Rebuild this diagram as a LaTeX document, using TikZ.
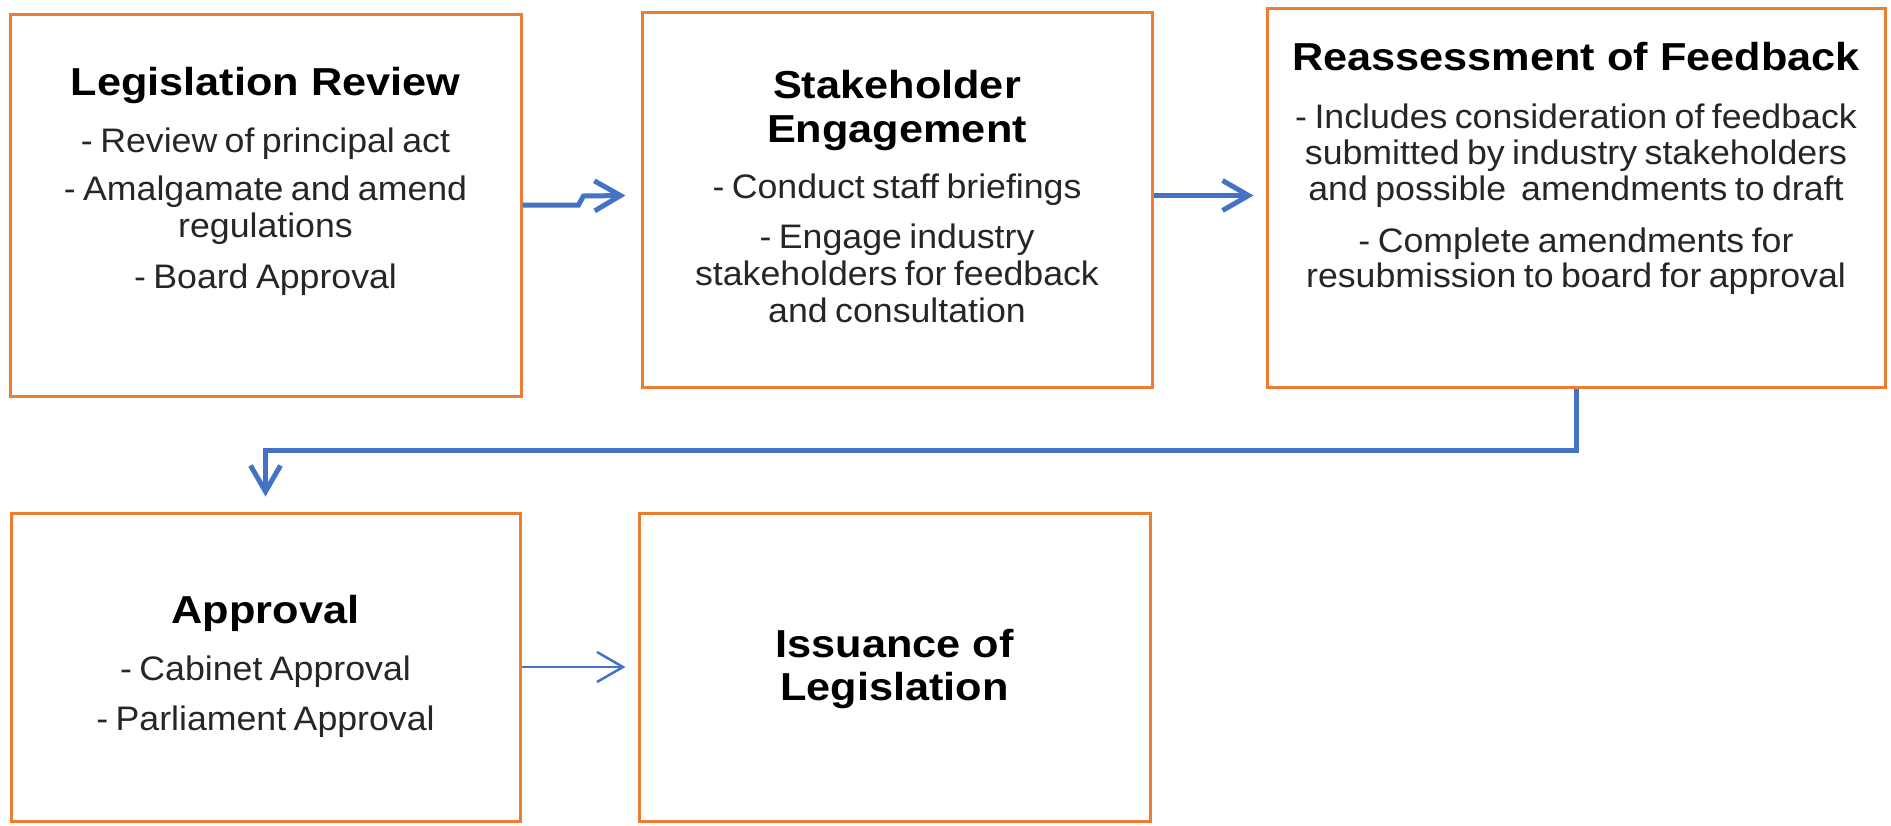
\documentclass[tikz,border=0pt]{standalone}
\usepackage{fontspec}
\setmainfont{Liberation Sans}
\newfontfamily\titlefont[FakeStretch=1.11]{Liberation Sans}
\newfontfamily\bodyfont[FakeStretch=1.05,WordSpace=0.75]{Liberation Sans}
\usetikzlibrary{arrows.meta}
\definecolor{boxorange}{HTML}{ED7D31}
\definecolor{flowblue}{HTML}{4472C4}
\definecolor{bodygray}{HTML}{262626}
\tikzset{
  stagebox/.style={draw=boxorange, line width=1.5pt, fill=white,
    rectangle, inner sep=0pt},
  heading/.style={anchor=base, inner sep=0pt, text=black,
    font=\titlefont\bfseries\fontsize{19.5pt}{20pt}\selectfont},
  bodyline/.style={anchor=base, inner sep=0pt, text=bodygray,
    font=\bodyfont\fontsize{17pt}{18pt}\selectfont},
  flow/.style={draw=flowblue, line width=2.5pt, line join=miter,
    -{Straight Barb[length=13pt,width=15pt,line width=2.5pt]}},
  thinflow/.style={draw=flowblue, line width=1.25pt,
    -{Straight Barb[length=13pt,width=15pt,line width=1.25pt]}}
}
\begin{document}
\begin{tikzpicture}[x=0.5pt,y=-0.5pt]
\useasboundingbox (0,0) rectangle (1891,825);

% stage boxes
\node[stagebox, minimum width=255.5pt, minimum height=191pt]   (b1) at (265.5,205)   {};
\node[stagebox, minimum width=255pt,   minimum height=187.5pt] (b2) at (897,199.5)   {};
\node[stagebox, minimum width=309pt,   minimum height=189.5pt] (b3) at (1576,197.5)  {};
\node[stagebox, minimum width=254.5pt, minimum height=154pt]   (b4) at (265.5,667)   {};
\node[stagebox, minimum width=255.5pt, minimum height=154pt]   (b5) at (894.5,667)   {};

% Legislation Review
\node[heading]  (b1h)  at (265.5,95)  {Legislation Review};
\node[bodyline] (b1l1) at (265.5,152) {- Review of principal act};
\node[bodyline] (b1l2) at (265.5,200) {- Amalgamate and amend};
\node[bodyline] (b1l3) at (265.5,237) {regulations};
\node[bodyline] (b1l4) at (265.5,288) {- Board Approval};

% Stakeholder Engagement
\node[heading]  (b2h1) at (897,98)  {Stakeholder};
\node[heading]  (b2h2) at (897,142) {Engagement};
\node[bodyline] (b2l1) at (897,198) {- Conduct staff briefings};
\node[bodyline] (b2l2) at (897,248) {- Engage industry};
\node[bodyline] (b2l3) at (897,285) {stakeholders for feedback};
\node[bodyline] (b2l4) at (897,322) {and consultation};

% Reassessment of Feedback
\node[heading]  (b3h)  at (1576,70)  {Reassessment of Feedback};
\node[bodyline] (b3l1) at (1576,128) {- Includes consideration of feedback};
\node[bodyline] (b3l2) at (1576,164) {submitted by industry stakeholders};
\node[bodyline] (b3l3) at (1576,200) {and possible \ amendments to draft};
\node[bodyline] (b3l4) at (1576,252) {- Complete amendments for};
\node[bodyline] (b3l5) at (1576,287) {resubmission to board for approval};

% Approval
\node[heading]  (b4h)  at (265.5,623) {Approval};
\node[bodyline] (b4l1) at (265.5,680) {- Cabinet Approval};
\node[bodyline] (b4l2) at (265.5,730) {- Parliament Approval};

% Issuance of Legislation
\node[heading]  (b5h1) at (894.5,657) {Issuance of};
\node[heading]  (b5h2) at (894.5,700) {Legislation};

% connectors
\draw[flow] (b1.east) -- ++(56,0) -- ++(5,-9)
  -- ([xshift=-7.5pt,yshift=2pt]b2.west);
\draw[flow, shorten >=6pt] ([yshift=2pt]b2.east) -- ([yshift=2pt]b2.east -| b3.west);
\draw[flow, shorten >=7.5pt] (b3.south) -- ++(0,62) -| (b4.north);
\draw[thinflow, shorten >=6pt] (b4.east) -- (b5.west);
\end{tikzpicture}
\end{document}
